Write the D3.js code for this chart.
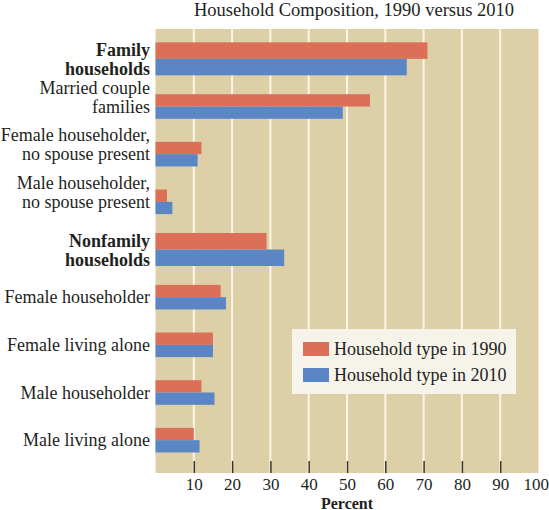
<!DOCTYPE html>
<html>
<head>
<meta charset="utf-8">
<script src="https://cdn.jsdelivr.net/npm/d3@7"></script>
<style>
  body { margin: 0; background: #fff; }
  text { font-family: "Liberation Serif", "DejaVu Serif", serif; fill: #231f1c; }
</style>
</head>
<body>
<script>
// data
var categories = [
  "Family\nhouseholds",
  "Married couple\nfamilies",
  "Female householder,\nno spouse present",
  "Male householder,\nno spouse present",
  "Nonfamily\nhouseholds",
  "Female householder",
  "Female living alone",
  "Male householder",
  "Male living alone"
];
var isHeader = [true, false, false, false, true, false, false, false, false];
var values1990 = [71, 56, 12, 3, 29, 17, 15, 12, 10];
var values2010 = [65.6, 48.9, 11, 4.4, 33.6, 18.4, 15, 15.4, 11.5];
var seriesNames = ["Household type in 1990", "Household type in 2010"];
var tickValues = [10, 20, 30, 40, 50, 60, 70, 80, 90, 100];

var width = 549;
var height = 510;
var plotTop = 29;
var plotBottom = 473;
var colors = ["#db6f58", "#5a86c6"];

var svg = d3.select("body").append("svg")
  .attr("width", width)
  .attr("height", height);

var x = d3.scaleLinear().domain([0, 100]).range([155.5, 538.5]);
var y = d3.scaleBand().domain(categories).range([35, 464]);

// title
svg.append("text")
  .attr("x", 354)
  .attr("y", 16)
  .attr("text-anchor", "middle")
  .style("font-size", "18.5px")
  .text("Household Composition, 1990 versus 2010");

// plot background
svg.append("rect")
  .attr("x", x(0))
  .attr("y", plotTop)
  .attr("width", x(100) - x(0))
  .attr("height", plotBottom - plotTop)
  .attr("fill", "#ded0a6");

// grid lines
svg.append("g")
  .selectAll("line")
  .data(tickValues.slice(0, -1))
  .enter().append("line")
    .attr("x1", function(d) { return x(d); })
    .attr("x2", function(d) { return x(d); })
    .attr("y1", plotTop)
    .attr("y2", plotBottom)
    .attr("stroke", "#fbf6e4")
    .attr("stroke-width", 2);

// bars
function barH(i) { return isHeader[i] ? 16.5 : 12.3; }
function center(d) { return y(d) + y.bandwidth() / 2; }

var bars = svg.append("g");
[values1990, values2010].forEach(function(vals, s) {
  bars.append("g")
    .selectAll("rect")
    .data(categories)
    .enter().append("rect")
      .attr("x", x(0))
      .attr("y", function(d, i) { return s == 0 ? center(d) - barH(i) : center(d); })
      .attr("width", function(d, i) { return x(vals[i]) - x(0); })
      .attr("height", function(d, i) { return barH(i); })
      .attr("fill", colors[s]);
});

// category labels
var labels = svg.append("g")
  .selectAll("text")
  .data(categories)
  .enter().append("text")
    .attr("text-anchor", "end")
    .style("font-size", "18px")
    .style("font-weight", function(d, i) { return isHeader[i] ? "bold" : "normal"; })
    .attr("transform", function(d, i) {
      var lines = d.split("\n").length;
      var off = lines == 1 ? 6 : (isHeader[i] ? -3 : -13);
      return "translate(150," + (center(d) + off) + ")";
    });

labels.selectAll("tspan")
  .data(function(d) { return d.split("\n"); })
  .enter().append("tspan")
    .attr("x", 0)
    .attr("dy", function(d, i) { return i == 0 ? 0 : 19; })
    .text(function(d) { return d; });

// x axis
var axis = svg.append("g")
  .attr("transform", "translate(0," + (plotBottom - 12) + ")")
  .call(d3.axisBottom(x).tickValues(tickValues).tickSize(12).tickPadding(5));

axis.select(".domain").remove();
axis.selectAll(".tick line")
  .attr("stroke", "#3b342c")
  .attr("stroke-width", 1.5);
axis.selectAll(".tick text")
  .style("font-size", "17px")
  .style("font-family", "Liberation Serif")
  .attr("fill", "#231f1c");

// last tick sits on the edge, no mark and label pulled inside
var lastTick = axis.selectAll(".tick").filter(function(d) { return d == 100; });
lastTick.select("line").remove();
lastTick.select("text").attr("text-anchor", "end").attr("x", 10);

svg.append("text")
  .attr("x", (x(0) + x(100)) / 2)
  .attr("y", 508.5)
  .attr("text-anchor", "middle")
  .style("font-size", "16px")
  .style("font-weight", "bold")
  .text("Percent");

// legend
var legend = svg.append("g").attr("transform", "translate(292,329)");
legend.append("rect")
  .attr("width", 224)
  .attr("height", 65)
  .attr("fill", "#f6f3ea");

var item = legend.selectAll(".item")
  .data(seriesNames)
  .enter().append("g")
    .attr("class", "item")
    .attr("transform", function(d, i) { return "translate(11," + (13 + i * 26) + ")"; });

item.append("rect")
  .attr("width", 26)
  .attr("height", 14)
  .attr("fill", function(d, i) { return colors[i]; });

item.append("text")
  .attr("x", 31)
  .attr("y", 13)
  .style("font-size", "18px")
  .text(function(d) { return d; });
</script>
</body>
</html>
